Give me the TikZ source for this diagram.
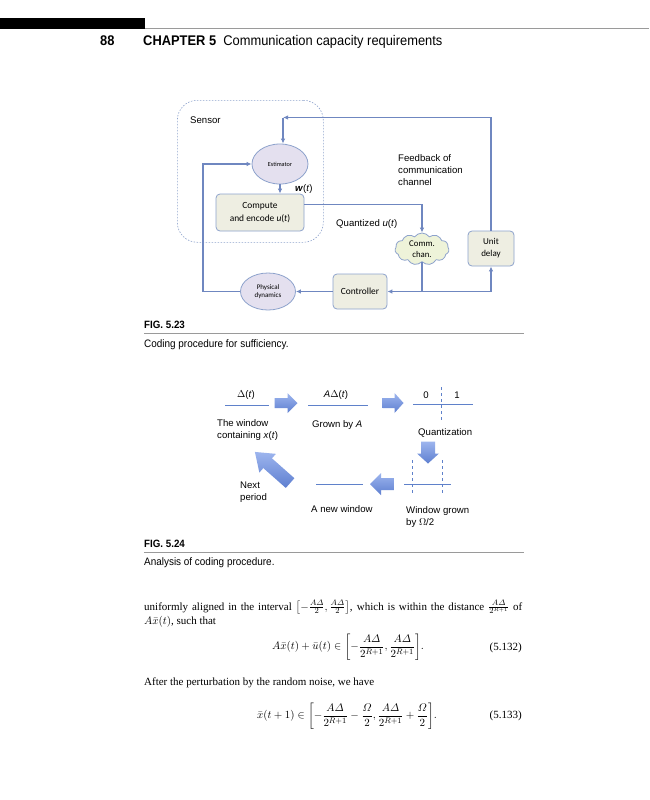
\documentclass[tikz,border=0pt]{standalone}
\usepackage{amsmath}
\usepackage{fontspec}
\setmainfont{Liberation Serif}
\setsansfont{Liberation Sans}
\newfontfamily\hdfont[FakeStretch=0.92]{Liberation Sans}
\newfontfamily\calfont{Carlito}
\usetikzlibrary{shapes.geometric,shapes.symbols,arrows.meta,calc}
\definecolor{lnblue}{HTML}{6F87C0}
\definecolor{bord}{HTML}{8DA2CC}
\definecolor{estfill}{HTML}{E4E0EF}
\definecolor{boxfill}{HTML}{EEEEE2}
\definecolor{cloudfill}{HTML}{EEF3D9}
\definecolor{arrA}{HTML}{9DB5EE}
\definecolor{arrB}{HTML}{5E7FD0}
\definecolor{winblue}{HTML}{5F81CA}
\definecolor{rulegray}{HTML}{9A9A9A}
\tikzset{
  ln/.style={draw=lnblue,line width=1.1pt},
  tip/.style={-{Latex[length=5pt,width=4.5pt]}},
  rbox/.style={rectangle,rounded corners=4pt,draw=bord,line width=0.8pt,fill=boxfill,align=center,inner sep=1pt},
  ell/.style={ellipse,draw=bord,line width=0.8pt,fill=estfill,align=center,inner sep=0pt},
  lbl/.style={font=\sffamily\fontsize{9.6}{12}\selectfont,inner sep=0pt},
  capt/.style={font=\hdfont\fontsize{10.8}{12}\selectfont,inner sep=0pt,anchor=west},
  capb/.style={font=\hdfont\bfseries\fontsize{10.6}{12}\selectfont,inner sep=0pt,anchor=west},
  body/.style={font=\fontsize{11}{14}\selectfont,inner sep=0pt},
  eqn/.style={font=\fontsize{10.8}{13}\selectfont,inner sep=0pt},
  win/.style={draw=winblue,line width=0.9pt},
  windash/.style={draw=winblue,line width=0.9pt,dash pattern=on 3pt off 3pt},
}
\newcommand\barrow[6]{%
  \begin{scope}[shift={#1},rotate=#2]
    \shade[top color=arrA,bottom color=arrB]
      (-#3/2,-#6) -- (#3/2-#4,-#6) -- (#3/2-#4,-#5) -- (#3/2,0)
      -- (#3/2-#4,#5) -- (#3/2-#4,#6) -- (-#3/2,#6) -- cycle;
  \end{scope}}
\begin{document}
\begin{tikzpicture}[x=1pt,y=-1pt]
\useasboundingbox (0,0) rectangle (649,800);
\fill[white] (0,0) rectangle (649,800);
% ---------- header ----------
\fill[black] (0,18) rectangle (145,29);
\draw[rulegray,line width=0.6pt] (145,28.6) -- (649,28.6);
\node[font=\hdfont\bfseries\fontsize{14}{15}\selectfont,anchor=base west,inner sep=0] (pg) at (100,45.5) {88};
\node[font=\hdfont\fontsize{14}{15}\selectfont,anchor=base west,inner sep=0] (chap) at (143,45.5) {\textbf{CHAPTER 5}\ \ Communication capacity requirements};
% ---------- Fig 5.23 ----------
\node[draw=bord,line width=0.6pt,dash pattern=on 1.5pt off 1.5pt,rounded corners=20pt,minimum width=146,minimum height=142,anchor=north west] (sensorbox) at (177,100) {};
\node[lbl,anchor=west] (sensorlbl) at (190,120) {Sensor};
\node[ell,minimum width=56,minimum height=40,font=\calfont\fontsize{6.2}{7}\selectfont] (est) at (280,164) {Estimator};
\node[rbox,minimum width=88,minimum height=37,font=\calfont\fontsize{9.4}{12.5}\selectfont] (comp) at (260,212.5) {Compute\\and encode \textit{u}(\textit{t})};
\node[cloud,cloud puffs=11,cloud puff arc=110,aspect=1.7,draw=bord,line width=0.8pt,fill=cloudfill,minimum width=54,minimum height=32,inner sep=-2pt,align=center,font=\calfont\fontsize{8.8}{11}\selectfont] (chan) at (422,249) {Comm.\\chan.};
\node[rbox,minimum width=46,minimum height=35,font=\calfont\fontsize{9}{12}\selectfont] (delay) at (491,248.5) {Unit\\delay};
\node[rbox,minimum width=54,minimum height=35,font=\calfont\fontsize{9.4}{10}\selectfont] (ctrl) at (360,291.5) {Controller};
\node[ell,minimum width=55,minimum height=37,font=\calfont\fontsize{7}{8.5}\selectfont] (phys) at (268,291.5) {Physical\\dynamics};
\node[lbl,anchor=west] (wt) at (295,189) {\textbf{\textit{w}}(\textit{t})};
\node[lbl,anchor=north west,align=left] (fbl) at (398,154) {Feedback of\\communication\\channel};
\node[lbl,anchor=west] (ql) at (336,224) {Quantized \textit{u}(\textit{t})};
\coordinate (fbtop) at (283,117.5);
\coordinate (qy) at (0,204.5);
\coordinate (pl) at (203,0);
\draw[ln,tip] (delay.north) |- (fbtop);
\draw[ln,tip] (fbtop) -- (fbtop |- est.north);
\draw[ln,tip] (est.south) -- (est.south |- comp.north);
\draw[ln,tip] (comp.east |- qy) -| (chan.north);
\coordinate (jn) at (chan.south |- ctrl.east);
\draw[ln,tip] (chan.south) -- (jn) -- (ctrl.east);
\draw[ln,tip] (jn) -| (delay.south);
\draw[ln,tip] (ctrl.west) -- (phys.east);
\draw[ln,tip] (phys.west) -- (phys.west -| pl) |- (est.west);
% caption 5.23
\node[capb] (f23) at (144,325) {FIG. 5.23};
\coordinate (r23a) at (144,333.5);
\coordinate (r23b) at (524,333.5);
\draw[rulegray,line width=0.6pt] (r23a) -- (r23b);
\node[capt] (c23) at (144,345) {Coding procedure for sufficiency.};
% ---------- Fig 5.24 ----------
\coordinate (w1a) at (225,405); \coordinate (w1b) at (269,405);
\coordinate (w2a) at (308,405); \coordinate (w2b) at (368,405);
\coordinate (w3a) at (413,404.5); \coordinate (w3b) at (473,404.5);
\coordinate (d3a) at (441,387); \coordinate (d3b) at (441,420);
\draw[win] (w1a) -- (w1b);
\draw[win] (w2a) -- (w2b);
\draw[win] (w3a) -- (w3b);
\draw[windash] (d3a) -- (d3b);
\node[lbl] (l1) at (246,395) {$\Delta$(\textit{t})};
\node[lbl] (l2) at (336,395) {\textit{A}$\Delta$(\textit{t})};
\node[lbl] (l0) at (426,395) {0};
\node[lbl] (l1b) at (457,395) {1};
\node[lbl,anchor=north west,align=left] (tw) at (217,419) {The window\\containing \textit{x}(\textit{t})};
\node[lbl,anchor=west] (gb) at (312,425) {Grown by \textit{A}};
\node[lbl,anchor=west] (qz) at (418,433) {Quantization};
\coordinate (e1a) at (412,460); \coordinate (e1b) at (412,493);
\coordinate (e2a) at (442,460); \coordinate (e2b) at (442,493);
\coordinate (w4a) at (404,484); \coordinate (w4b) at (451,484);
\coordinate (w5a) at (316,484); \coordinate (w5b) at (363,484);
\draw[windash] (e1a) -- (e1b);
\draw[windash] (e2a) -- (e2b);
\draw[win] (w4a) -- (w4b);
\draw[win] (w5a) -- (w5b);
\node[lbl,anchor=north west,align=left] (np) at (240,482) {Next\\period};
\node[lbl,anchor=west] (nw) at (311,509) {A new window};
\node[lbl,anchor=north west,align=left] (wg) at (406,506) {Window grown\\by \textit{$\Omega$}/2};
\barrow{(286,403)}{0}{23}{10}{10}{5}
\barrow{(393,403)}{0}{21}{9}{10}{5}
\barrow{(428,452.5)}{-90}{22}{10}{11}{7}
\barrow{(382,484)}{180}{24}{11}{11}{6}
\barrow{(272.5,467.5)}{138.5}{47}{17}{12.5}{6.5}
% caption 5.24
\node[capb] (f24) at (144,544) {FIG. 5.24};
\coordinate (r24a) at (144,552.5);
\coordinate (r24b) at (524,552.5);
\draw[rulegray,line width=0.6pt] (r24a) -- (r24b);
\node[capt] (c24) at (144,563) {Analysis of coding procedure.};
% ---------- text ----------
\node[body,anchor=base west] (line1) at (144,610) {\makebox[378pt][s]{uniformly aligned in the interval $\left[-\frac{A\varDelta}{2},\frac{A\varDelta}{2}\right]$, which is within the distance $\frac{A\varDelta}{2^{R+1}}$ of}};
\node[body,anchor=base west] (line2) at (144,624) {$A\bar{x}(t)$, such that};
\node[eqn] (eq1) at (348,647) {$A\bar{x}(t)+\bar{u}(t)\in\left[-\dfrac{A\varDelta}{2^{R+1}},\dfrac{A\varDelta}{2^{R+1}}\right]\!.$};
\node[body,anchor=east] (n1) at (522,648) {(5.132)};
\node[body,anchor=west] (para2) at (144,683) {After the perturbation by the random noise, we have};
\node[eqn] (eq2) at (347,716) {$\bar{x}(t+1)\in\left[-\dfrac{A\varDelta}{2^{R+1}}-\dfrac{\varOmega}{2},\dfrac{A\varDelta}{2^{R+1}}+\dfrac{\varOmega}{2}\right]\!.$};
\node[body,anchor=east] (n2) at (522,716) {(5.133)};
\end{tikzpicture}
\end{document}
